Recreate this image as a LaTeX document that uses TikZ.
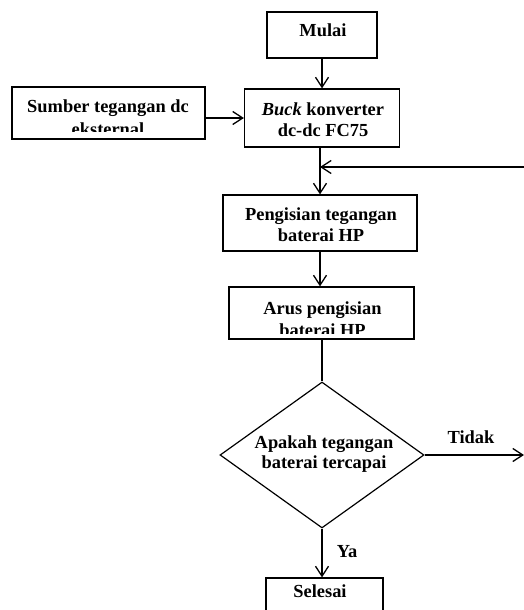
\documentclass[tikz,border=0pt]{standalone}
\usepackage{fontspec}
\setmainfont{Liberation Serif}
\usetikzlibrary{shapes.geometric,arrows.meta,calc}
\tikzset{
  box/.style={draw, line width=1.2pt, rectangle, inner sep=0pt},
  txt/.style={font=\bfseries\fontsize{18.4}{21.5}\selectfont, align=center, anchor=base, inner sep=0pt},
  ctxt/.style={font=\bfseries\fontsize{18.4}{22.5}\selectfont, align=center, anchor=base, inner sep=0pt},
  dtxt/.style={font=\bfseries\fontsize{18.4}{20.5}\selectfont, align=center, anchor=base, inner sep=0pt},
  arr/.style={line width=1.3pt, -{Straight Barb[length=10pt,width=13pt]}},
  ln/.style={line width=1.3pt}
}
\begin{document}
\begin{tikzpicture}[x=1pt,y=-1pt]
\clip (0,0) rectangle (524,610);
\useasboundingbox (0,0) rectangle (524,610);
% boxes
\node[box, minimum width=110pt, minimum height=46pt] (mulai) at (322,35) {};
\node[box, minimum width=155pt, minimum height=58pt] (buck) at (322,118) {};
\node[box, minimum width=193pt, minimum height=52pt] (sumber) at (108.5,113) {};
\node[box, minimum width=194pt, minimum height=56pt] (isi) at (320,223) {};
\node[box, minimum width=185pt, minimum height=52pt] (arus) at (321.5,313) {};
\node[draw, line width=1.2pt, diamond, inner sep=0pt, minimum width=204pt, minimum height=146pt] (dec) at (322,455) {};
\node[box, minimum width=117pt, minimum height=46pt] (selesai) at (324.5,601) {};
% texts (base anchor = baseline of the last line)
\node[txt] (tmulai) at (323,37) {Mulai};
\node[txt] (tbuck) at (323,136.5) {\textit{Buck} konverter\\dc-dc FC75};
\begin{scope}
\clip (sumber.north west) rectangle (sumber.east |- 0,131);
\node[ctxt] (tsumber) at (108,135) {Sumber tegangan dc\\eksternal};
\end{scope}
\node[txt] (tisi) at (321,241.5) {Pengisian tegangan\\baterai HP};
\begin{scope}
\clip (arus.north west) rectangle (arus.east |- 0,333);
\node[ctxt] (tarus) at (322.5,336.5) {Arus pengisian\\baterai HP};
\end{scope}
\node[dtxt] (tdec) at (324,468.5) {Apakah tegangan\\baterai tercapai};
\node[txt] (tselesai) at (320,597) {Selesai};
\node[txt] (ttidak) at (471,443) {Tidak};
\node[txt] (tya) at (347,557) {Ya};
% connectors
\coordinate (fb) at (524,167);
\coordinate (tend) at (524,455);
\draw[arr] (mulai.south) -- (buck.north);
\draw[arr] (buck.west -| sumber.east) -- (buck.west);
\draw[arr] (buck.south -| isi.north) -- (isi.north);
\draw[arr] (fb) -- (fb -| isi.north);
\draw[arr] (isi.south) -- (isi.south |- arus.north);
\draw[ln] (arus.south -| dec.north) -- (dec.north);
\draw[arr] (dec.east) -- (tend);
\draw[arr] (dec.south) -- (dec.south |- selesai.north);
\end{tikzpicture}
\end{document}
